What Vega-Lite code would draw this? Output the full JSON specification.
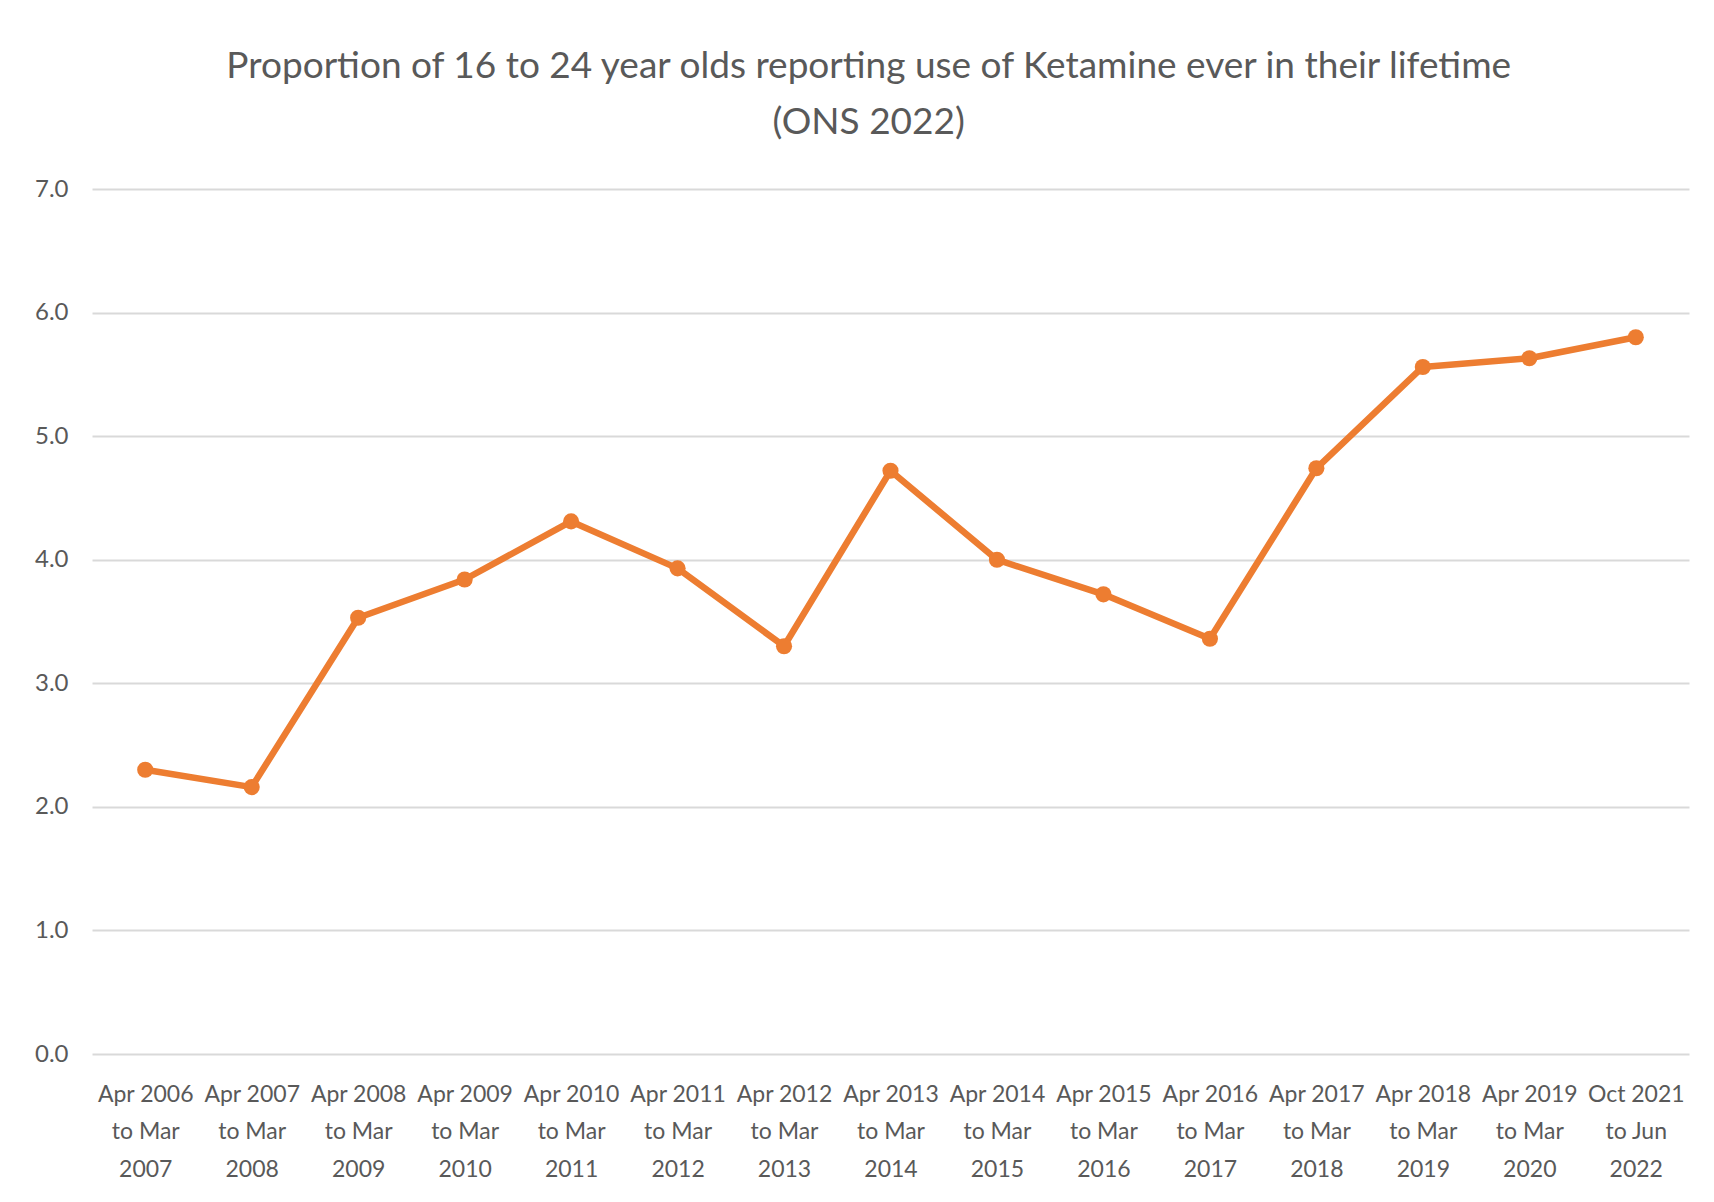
{
  "$schema": "https://vega.github.io/schema/vega-lite/v6.json",
  "width": 1597,
  "height": 865,
  "autosize": {"type": "none"},
  "padding": {"left": 92, "top": 189, "right": 25, "bottom": 148},
  "background": "white",
  "title": {
    "text": ["Proportion of 16 to 24 year olds reporting use of Ketamine ever in their lifetime", "(ONS 2022)"],
    "anchor": "middle",
    "frame": "bounds",
    "font": "Lato",
    "fontSize": 37,
    "fontWeight": "normal",
    "color": "#595959",
    "lineHeight": 56,
    "offset": 35,
    "dx": 7
  },
  "data": {
    "values": [
      {"period": "Apr 2006 to Mar 2007", "value": 2.30},
      {"period": "Apr 2007 to Mar 2008", "value": 2.16},
      {"period": "Apr 2008 to Mar 2009", "value": 3.53},
      {"period": "Apr 2009 to Mar 2010", "value": 3.84},
      {"period": "Apr 2010 to Mar 2011", "value": 4.31},
      {"period": "Apr 2011 to Mar 2012", "value": 3.93},
      {"period": "Apr 2012 to Mar 2013", "value": 3.30},
      {"period": "Apr 2013 to Mar 2014", "value": 4.72},
      {"period": "Apr 2014 to Mar 2015", "value": 4.00},
      {"period": "Apr 2015 to Mar 2016", "value": 3.72},
      {"period": "Apr 2016 to Mar 2017", "value": 3.36},
      {"period": "Apr 2017 to Mar 2018", "value": 4.74},
      {"period": "Apr 2018 to Mar 2019", "value": 5.56},
      {"period": "Apr 2019 to Mar 2020", "value": 5.63},
      {"period": "Oct 2021 to Jun 2022", "value": 5.80}
    ]
  },
  "mark": {"type": "line", "color": "#ED7D31", "strokeWidth": 6.5, "strokeJoin": "round", "point": {"filled": true, "size": 260, "color": "#ED7D31", "opacity": 1}},
  "encoding": {
    "x": {
      "field": "period",
      "type": "ordinal",
      "sort": null,
      "scale": {"type": "point", "padding": 0.5},
      "axis": {
        "title": null,
        "labelAngle": 0,
        "domain": false,
        "ticks": false,
        "grid": false,
        "labelFont": "Lato",
        "labelFontSize": 23,
        "labelColor": "#595959",
        "labelLineHeight": 37.5,
        "labelPadding": 29,
        "labelBaseline": "top",
        "labelExpr": "[slice(datum.label, 0, 8), slice(datum.label, 9, 15), slice(datum.label, 16)]"
      }
    },
    "y": {
      "field": "value",
      "type": "quantitative",
      "scale": {"domain": [0, 7], "nice": false, "zero": true},
      "axis": {
        "title": null,
        "values": [0, 1, 2, 3, 4, 5, 6, 7],
        "format": ".1f",
        "domain": false,
        "ticks": false,
        "grid": true,
        "gridColor": "#d9d9d9",
        "gridWidth": 2,
        "labelFont": "Lato",
        "labelFontSize": 24,
        "labelColor": "#595959",
        "labelPadding": 24
      }
    }
  },
  "config": {"view": {"stroke": null}}
}
